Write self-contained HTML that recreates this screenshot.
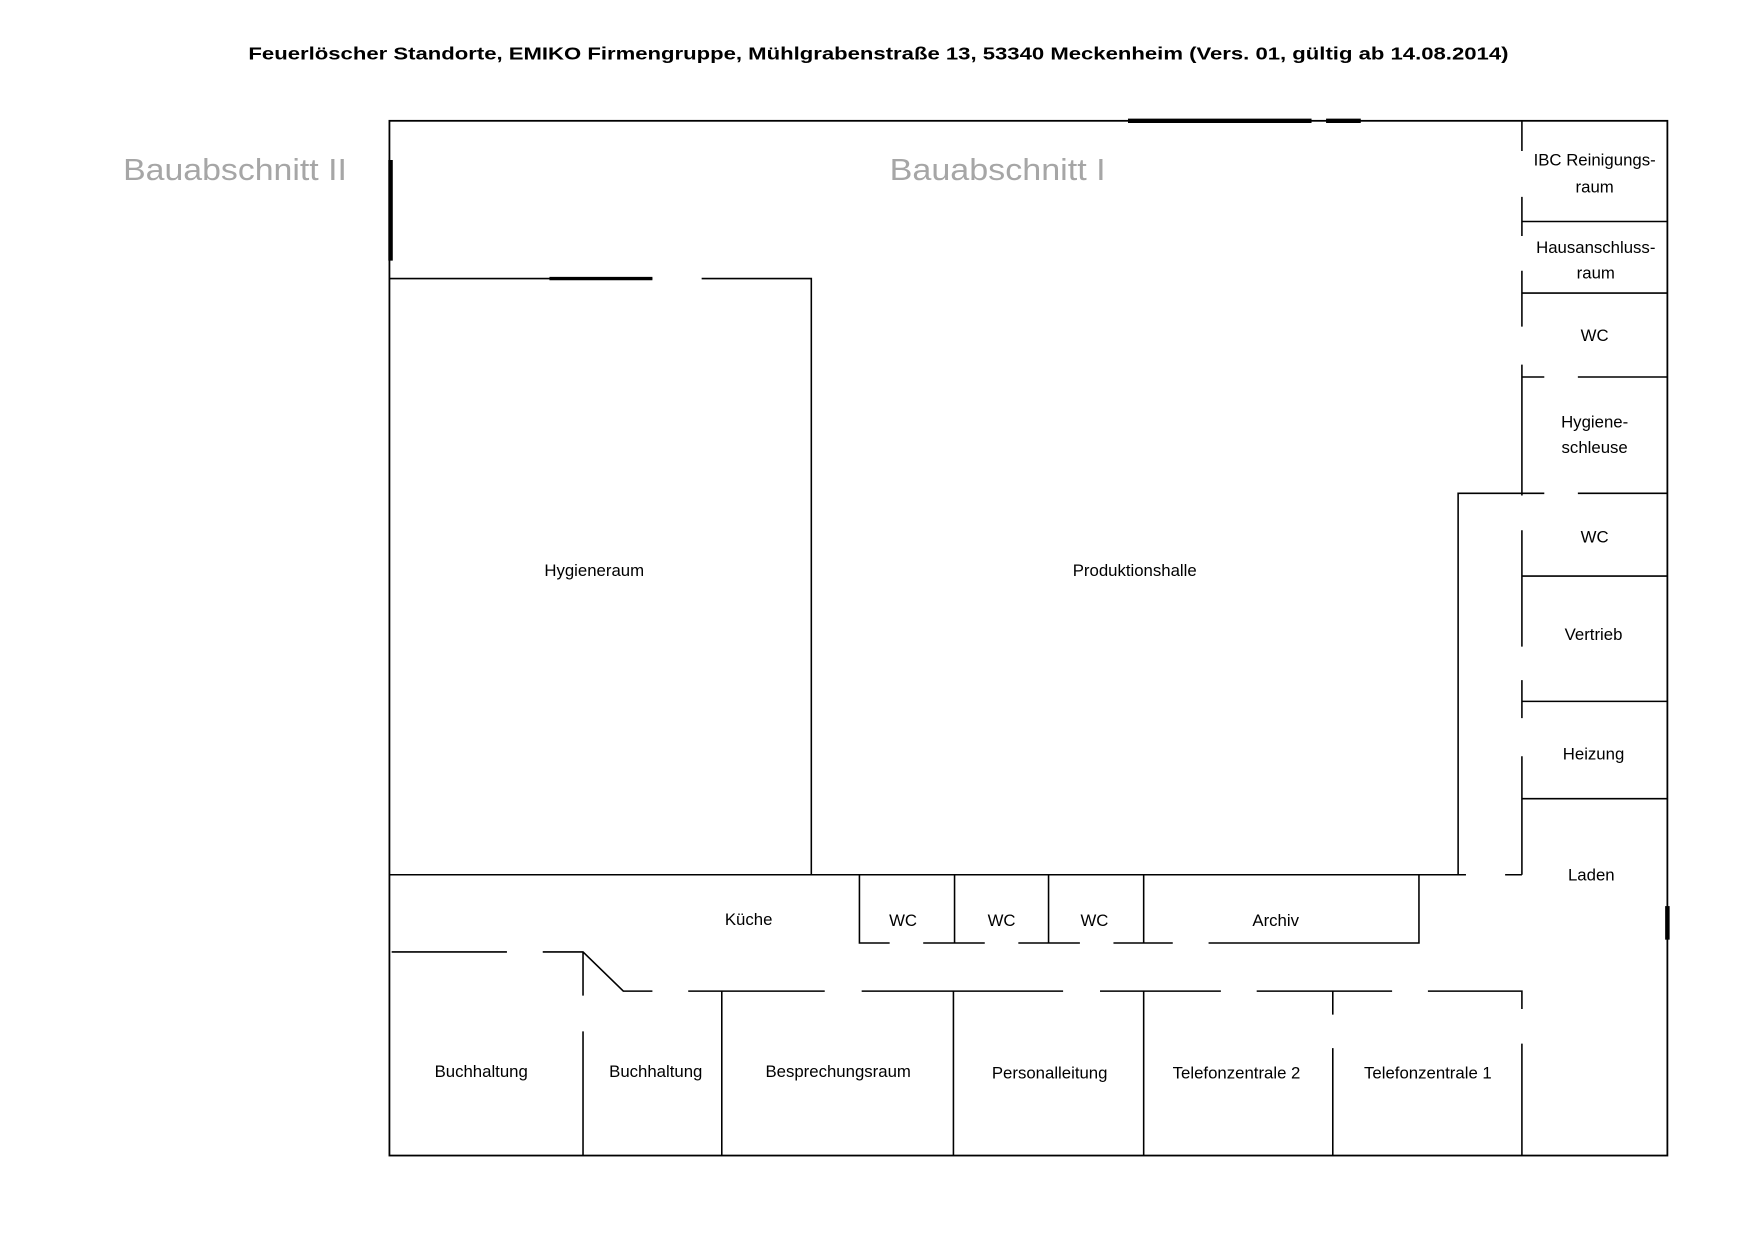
<!DOCTYPE html>
<html><head><meta charset="utf-8"><style>
html,body{margin:0;padding:0;background:#fff;}
svg{display:block;}
text{font-family:"Liberation Sans",sans-serif;fill:#000;}
</style></head><body>
<svg width="1754" height="1240" viewBox="0 0 1567.4 1108.5" preserveAspectRatio="none" xmlns="http://www.w3.org/2000/svg">
<text x="785" y="53" text-anchor="middle" font-size="16" font-weight="bold" textLength="1126" lengthAdjust="spacingAndGlyphs">Feuerlöscher Standorte, EMIKO Firmengruppe, Mühlgrabenstraße 13, 53340 Meckenheim (Vers. 01, gültig ab 14.08.2014)</text>
<text x="110" y="161" font-size="27" style="fill:#a6a6a6" textLength="200" lengthAdjust="spacingAndGlyphs">Bauabschnitt II</text>
<text x="795" y="161" font-size="27" style="fill:#a6a6a6" textLength="193" lengthAdjust="spacingAndGlyphs">Bauabschnitt I</text>
<g stroke="#000" stroke-width="1.4" fill="none">
<rect x="348" y="108" width="1142" height="925" stroke-width="1.6"/>
<path d="M348 249H583M627 249H725V782"/>
<path d="M348 782H1310M1345 782H1360"/>
<path d="M1303 782V441H1380M1410 441H1490"/>
<path d="M1360 108V135M1360 176V211M1360 242V292M1360 326V443M1360 474V578M1360 608V642M1360 676V782"/>
<path d="M1360 198H1490M1360 262H1490M1360 337H1380M1410 337H1490M1360 515H1490M1360 627H1490M1360 714H1490"/>
<path d="M768 782V843H795M825 843H880M910 843H965M995 843H1048M1080 843H1268V782"/>
<path d="M853 782V843M937 782V843M1022 782V843"/>
<path d="M350 851H453M485 851H521L557 886H583M521 851V890M521 922V1033"/>
<path d="M615 886H737M770 886H950M983 886H1091M1123 886H1244M1276 886H1360V902M1360 933V1033"/>
<path d="M645 886V1033M852 886V1033M1022 886V1033M1191 886V907M1191 937V1033"/>
</g>
<g stroke="#000" stroke-width="4" fill="none">
<path d="M1008 108H1172M1185 108H1216"/>
<path d="M349 143V233"/>
<path d="M1490 810V840"/>
<path d="M491 249H583" stroke-width="3"/>
</g>
<g font-size="15" text-anchor="middle">
<text x="531" y="515">Hygieneraum</text>
<text x="1014" y="515">Produktionshalle</text>
<text x="669" y="827">Küche</text>
<text x="807" y="828">WC</text>
<text x="895" y="828">WC</text>
<text x="978" y="828">WC</text>
<text x="1140" y="828">Archiv</text>
<text x="430" y="963">Buchhaltung</text>
<text x="586" y="963">Buchhaltung</text>
<text x="749" y="963">Besprechungsraum</text>
<text x="938" y="964">Personalleitung</text>
<text x="1105" y="964">Telefonzentrale 2</text>
<text x="1276" y="964">Telefonzentrale  1</text>
<text x="1425" y="148">IBC Reinigungs-</text>
<text x="1425" y="172">raum</text>
<text x="1426" y="226">Hausanschluss-</text>
<text x="1426" y="249">raum</text>
<text x="1425" y="305">WC</text>
<text x="1425" y="382">Hygiene-</text>
<text x="1425" y="405">schleuse</text>
<text x="1425" y="485">WC</text>
<text x="1424" y="572">Vertrieb</text>
<text x="1424" y="679">Heizung</text>
<text x="1422" y="787">Laden</text>
</g>
</svg>
</body></html>
